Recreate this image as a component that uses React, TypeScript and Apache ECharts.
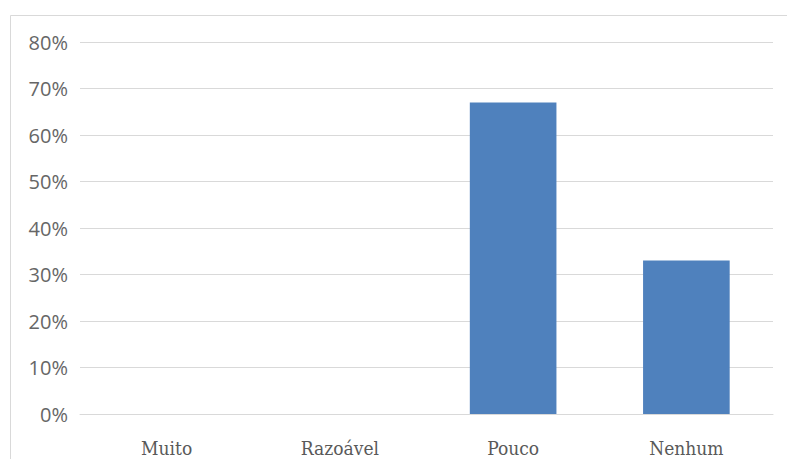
import React, { useEffect, useRef } from "react";
import * as echarts from "echarts";

const categories = ["Muito", "Razoável", "Pouco", "Nenhum"];
const values = [0, 0, 67, 33];
const yMax = 80;
const yInterval = 10;

export default function App() {
  const ref = useRef<HTMLDivElement>(null);
  useEffect(() => {
    if (!ref.current) return;
    const chart = echarts.init(ref.current, undefined, { renderer: "svg" });
    chart.setOption({
      animation: false,
      backgroundColor: "#ffffff",
      grid: { left: 80, right: 14, top: 42, bottom: 45, containLabel: false },
      graphic: [
        {
          type: "polyline",
          shape: { points: [[10.5, 459], [10.5, 15.5], [787, 15.5]] },
          style: { stroke: "#d9d9d9", lineWidth: 1, fill: "none" },
          silent: true,
        },
      ],
      xAxis: {
        type: "category",
        data: categories,
        axisLine: { show: true, lineStyle: { color: "#d9d9d9", width: 1 } },
        axisTick: { show: false },
        axisLabel: {
          color: "#595959",
          fontFamily: "'DejaVu Serif Condensed', 'Liberation Serif', serif",
          fontSize: 19,
          margin: 24,
        },
      },
      yAxis: {
        type: "value",
        min: 0,
        max: yMax,
        interval: yInterval,
        axisLine: { show: false },
        axisTick: { show: false },
        splitLine: { lineStyle: { color: "#d9d9d9", width: 1 } },
        axisLabel: {
          formatter: "{value}%",
          color: "#666666",
          fontFamily: "'Open Sans', 'DejaVu Sans Condensed', sans-serif",
          fontSize: 20,
          margin: 12,
        },
      },
      series: [
        {
          type: "bar",
          data: values,
          barWidth: "50%",
          itemStyle: { color: "#4f81bd" },
        },
      ],
    });
    return () => chart.dispose();
  }, []);
  return (
    <div style={{ position: "fixed", left: 0, top: 0, width: 787, height: 459, background: "#fff" }}>
      <div ref={ref} style={{ width: 787, height: 459 }} />
    </div>
  );
}
